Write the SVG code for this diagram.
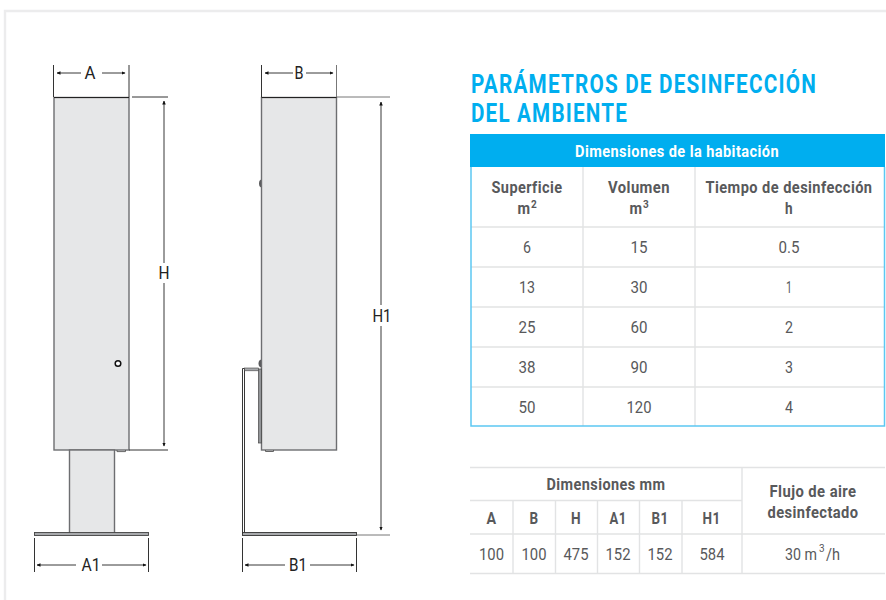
<svg xmlns="http://www.w3.org/2000/svg" width="886" height="600" viewBox="0 0 886 600">
<style>
text{font-family:"Roboto","Liberation Sans",sans-serif}
.dim{font-size:18px;fill:#222;text-anchor:middle}
.t{font-size:26px;font-weight:700;fill:#00aeef;letter-spacing:1.500px}
.hw{font-size:17px;font-weight:700;fill:#fff;text-anchor:middle;letter-spacing:.5px}
.th{font-size:17px;font-weight:700;fill:#58595b;text-anchor:middle;letter-spacing:.5px}
.sup{font-size:10px;font-weight:700;fill:#58595b}
.td{font-size:17px;fill:#58595b;text-anchor:middle}
.sd{font-size:10px;fill:#58595b}
.g{stroke:#e2e3e4;stroke-width:1.400;fill:none}
.body{fill:#e6e7e8;stroke:#6d6e71;stroke-width:1.400}
.ext{stroke:#333;stroke-width:1;fill:none}
.ext2{stroke:#777;stroke-width:1;fill:none}
.dl{stroke:#222;stroke-width:.9;fill:none;marker-end:url(#ah)}
</style>
<defs><marker id="ah" markerWidth="4" markerHeight="3.600" refX="3.500" refY="1.800" orient="auto" markerUnits="userSpaceOnUse"><path d="M0 0L4 1.800L0 3.600Z" fill="#111"/></marker></defs>
<rect width="886" height="600" fill="#fff"/>
<path d="M5 600V11H886" fill="none" stroke="#ececed" stroke-width="2.400"/>
<g id="front-view">
<rect class="body" x="54" y="97.500" width="75" height="352.500"/>
<path d="M54 97.500H129" stroke="#222" stroke-width="1.200"/>
<rect class="body" x="69.500" y="450" width="45" height="84"/>
<rect x="34.500" y="532.500" width="114" height="3" fill="#a7a9ac" stroke="#444" stroke-width=".9"/>
<path d="M117 450v1.600h8.500V450" fill="none" stroke="#555" stroke-width=".9"/>
<circle cx="118" cy="363.500" r="2.800" fill="#fff" stroke="#111" stroke-width="1.500"/>
</g>
<g id="side-view">
<path d="M262 179.500a3 4 0 0 0 0 8Z" fill="#58595b"/>
<path d="M262 359.500a3.500 4 0 0 0 0 8Z" fill="#58595b"/>
<rect class="body" x="261.500" y="97.500" width="75" height="352.500"/>
<path d="M261.500 97.500H336.500" stroke="#222" stroke-width="1.200"/>
<rect x="258.500" y="369" width="3" height="74" fill="#939598" stroke="#444" stroke-width=".7"/>
<path d="M265.500 450v1.500h8V450" fill="none" stroke="#555" stroke-width=".9"/>
<path d="M242.500 534V368.500H244.500V534Z" fill="#fff" stroke="#222" stroke-width=".9"/>
<rect x="244.500" y="368" width="14" height="2.800" fill="#a7a9ac" stroke="#444" stroke-width=".6"/>
<rect x="242.500" y="532.500" width="114" height="3" fill="#a7a9ac" stroke="#333" stroke-width=".9"/>
</g>
<g id="connectors">
<path class="ext" d="M53.500 65V97M129 65V97M132 97H168M129 450H168"/>
<path class="ext" d="M261.500 65V97"/><path class="ext2" d="M336.500 65V97M337 97H390M357 535H390"/>
<path class="ext" d="M34.500 538V572M148.500 538V572M242.500 538V572M356.500 538V572"/>
<path class="dl" d="M81 73H57"/><path class="dl" d="M102 73H125"/>
<path class="dl" d="M293 73H265"/><path class="dl" d="M306 73H333"/>
<path class="dl" d="M164 263V101"/><path class="dl" d="M164 283V446"/>
<path class="dl" d="M381 305V102"/><path class="dl" d="M381 326V530"/>
<path class="dl" d="M76 565H37"/><path class="dl" d="M102 565H146"/>
<path class="dl" d="M285 565H245"/><path class="dl" d="M310 565H354"/>
</g>
<g id="dim-labels">
<text class="dim" x="90" y="78.500" textLength="11" lengthAdjust="spacingAndGlyphs">A</text><text class="dim" x="299" y="78.500" textLength="9" lengthAdjust="spacingAndGlyphs">B</text>
<text class="dim" x="164" y="279" textLength="11" lengthAdjust="spacingAndGlyphs">H</text><text class="dim" x="382" y="322" textLength="19" lengthAdjust="spacingAndGlyphs">H1</text>
<text class="dim" x="91" y="571" textLength="19" lengthAdjust="spacingAndGlyphs">A1</text><text class="dim" x="298" y="571" textLength="18" lengthAdjust="spacingAndGlyphs">B1</text>
</g>
<g id="title">
<text class="t" x="471" y="92.500" textLength="346" lengthAdjust="spacingAndGlyphs">PARÁMETROS DE DESINFECCIÓN</text>
<text class="t" x="471" y="121.500" textLength="157" lengthAdjust="spacingAndGlyphs">DEL AMBIENTE</text>
</g>
<g id="table-room">
<rect x="470" y="134" width="415" height="33" fill="#00aeef"/>
<path class="g" d="M583 167V426M695 167V426M471 227H884M471 267H884M471 307H884M471 347H884M471 387H884"/>
<path d="M471 167V426H884.500V167" fill="none" stroke="#5cc8f2" stroke-width="1.500"/>
<text class="hw" x="677" y="157" textLength="204" lengthAdjust="spacingAndGlyphs">Dimensiones de la habitación</text>
<text class="th" x="527" y="193" textLength="71" lengthAdjust="spacingAndGlyphs">Superficie</text>
<text class="th" x="639" y="193" textLength="62" lengthAdjust="spacingAndGlyphs">Volumen</text>
<text class="th" x="789" y="193" textLength="167" lengthAdjust="spacingAndGlyphs">Tiempo de desinfección</text>
<text class="th" x="524" y="214" textLength="13" lengthAdjust="spacingAndGlyphs">m</text><text class="sup" x="531" y="208">2</text>
<text class="th" x="636" y="214" textLength="13" lengthAdjust="spacingAndGlyphs">m</text><text class="sup" x="643" y="208">3</text>
<text class="th" x="789" y="214" textLength="8" lengthAdjust="spacingAndGlyphs">h</text>
<text class="td" x="527" y="253" textLength="8" lengthAdjust="spacingAndGlyphs">6</text><text class="td" x="639" y="253" textLength="17" lengthAdjust="spacingAndGlyphs">15</text><text class="td" x="789" y="253" textLength="21" lengthAdjust="spacingAndGlyphs">0.5</text>
<text class="td" x="527" y="293" textLength="16" lengthAdjust="spacingAndGlyphs">13</text><text class="td" x="639" y="293" textLength="17" lengthAdjust="spacingAndGlyphs">30</text><text class="td" x="789" y="293" textLength="6" lengthAdjust="spacingAndGlyphs">1</text>
<text class="td" x="527" y="333" textLength="17" lengthAdjust="spacingAndGlyphs">25</text><text class="td" x="639" y="333" textLength="17" lengthAdjust="spacingAndGlyphs">60</text><text class="td" x="789" y="333" textLength="8" lengthAdjust="spacingAndGlyphs">2</text>
<text class="td" x="527" y="373" textLength="17" lengthAdjust="spacingAndGlyphs">38</text><text class="td" x="639" y="373" textLength="17" lengthAdjust="spacingAndGlyphs">90</text><text class="td" x="789" y="373" textLength="8" lengthAdjust="spacingAndGlyphs">3</text>
<text class="td" x="527" y="413" textLength="17" lengthAdjust="spacingAndGlyphs">50</text><text class="td" x="639" y="413" textLength="25" lengthAdjust="spacingAndGlyphs">120</text><text class="td" x="789" y="413" textLength="8" lengthAdjust="spacingAndGlyphs">4</text>
</g>
<g id="table-dimensions">
<path class="g" d="M470 467.500H885M470 500.500H742M470 534H885M470 573.500H885M742 467V574M513 500V574M555.500 500V574M597.500 500V574M639.500 500V574M682 500V574"/>
<text class="th" x="606" y="490" textLength="119" lengthAdjust="spacingAndGlyphs">Dimensiones mm</text>
<text class="th" x="813" y="497" textLength="87" lengthAdjust="spacingAndGlyphs">Flujo de aire</text>
<text class="th" x="813" y="518" textLength="91" lengthAdjust="spacingAndGlyphs">desinfectado</text>
<text class="th" x="491.500" y="524" textLength="10" lengthAdjust="spacingAndGlyphs">A</text><text class="th" x="534" y="524" textLength="9" lengthAdjust="spacingAndGlyphs">B</text><text class="th" x="576" y="524" textLength="10" lengthAdjust="spacingAndGlyphs">H</text><text class="th" x="618" y="524" textLength="17" lengthAdjust="spacingAndGlyphs">A1</text><text class="th" x="660" y="524" textLength="17" lengthAdjust="spacingAndGlyphs">B1</text><text class="th" x="711.500" y="524" textLength="18" lengthAdjust="spacingAndGlyphs">H1</text>
<text class="td" x="491.500" y="560" textLength="25" lengthAdjust="spacingAndGlyphs">100</text><text class="td" x="534" y="560" textLength="25" lengthAdjust="spacingAndGlyphs">100</text><text class="td" x="576" y="560" textLength="25" lengthAdjust="spacingAndGlyphs">475</text><text class="td" x="618" y="560" textLength="25" lengthAdjust="spacingAndGlyphs">152</text><text class="td" x="660" y="560" textLength="25" lengthAdjust="spacingAndGlyphs">152</text><text class="td" x="712" y="560" textLength="25" lengthAdjust="spacingAndGlyphs">584</text>
<text class="td" x="785" y="560" style="text-anchor:start" textLength="32" lengthAdjust="spacingAndGlyphs">30 m</text><text class="sd" x="819" y="552">3</text><text class="td" x="826" y="560" style="text-anchor:start" textLength="14" lengthAdjust="spacingAndGlyphs">/h</text>
</g>
</svg>
